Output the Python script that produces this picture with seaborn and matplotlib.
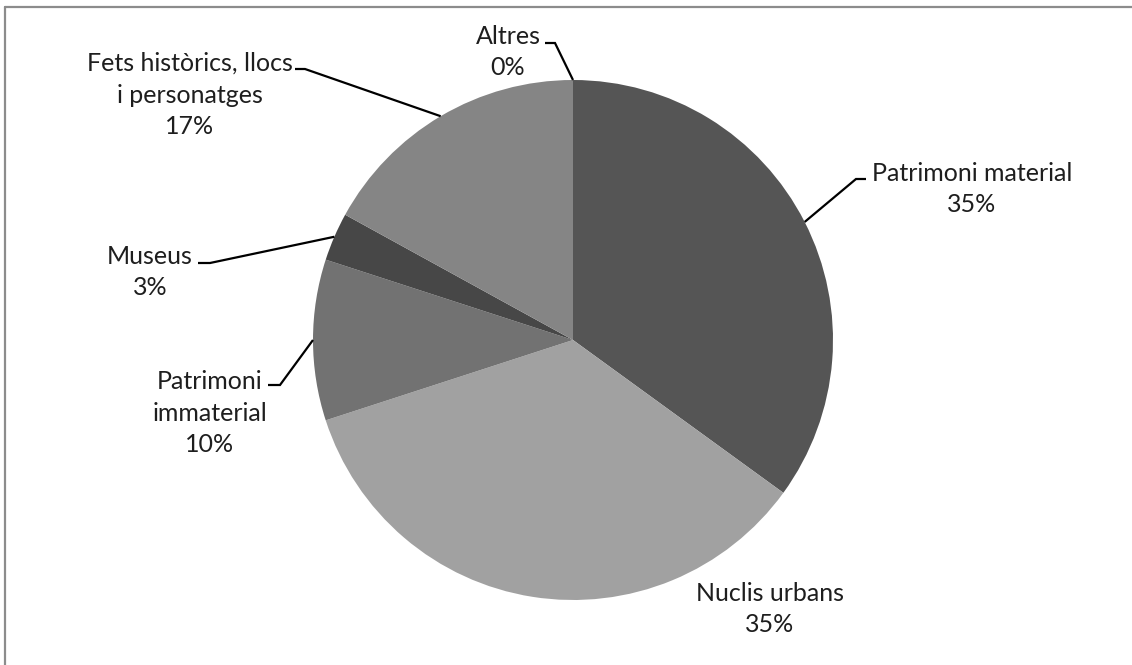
import numpy as np
import matplotlib
matplotlib.use("Agg")
import matplotlib.pyplot as plt
from matplotlib.lines import Line2D
import seaborn as sns

# Share of each heritage category (%)
categories = ["Patrimoni material", "Nuclis urbans", "Patrimoni\nimmaterial",
              "Museus", "Fets històrics, llocs\ni personatges", "Altres"]
shares = [35, 35, 10, 3, 17, 0]
slice_colors = ["#555555", "#a1a1a1", "#727272", "#474747", "#858585", "#666666"]

sns.set_theme(style="white")
plt.rcParams["font.family"] = ["Lato", "DejaVu Sans"]

W, H, DPI = 1132, 665, 100
fig = plt.figure(figsize=(W / DPI, H / DPI), dpi=DPI)
fig.patch.set_facecolor("white")

# pixel layout: pie centre and radius
cx, cy, R = 573, 340, 260
ax = fig.add_axes([0, 0, 1, 1])

wedges, _ = ax.pie(shares, colors=slice_colors, startangle=90, counterclock=False,
                   radius=1.0, center=(0, 0), wedgeprops=dict(linewidth=0))

ax.set_xlim(-cx / R, (W - cx) / R)
ax.set_ylim(-(H - cy) / R, cy / R)
ax.set_aspect("equal")
ax.axis("off")


def px(x, y):
    """pixel position -> data coordinates"""
    return (x - cx) / R, (cy - y) / R


# label centre, and for leader lines: stub start, stub end (pixels)
layout = {
    0: dict(text=(972, 189), stub=((866, 179), (856, 179))),
    1: dict(text=(770, 609), stub=None),
    2: dict(text=(210, 413), stub=((268, 385), (280, 385))),
    3: dict(text=(150, 272), stub=((198, 263), (210, 263))),
    4: dict(text=(190, 95), stub=((295, 69), (305, 69))),
    5: dict(text=(508, 52), stub=((545, 43), (555, 43))),
}

fs = 18
for i, (w, cat, val) in enumerate(zip(wedges, categories, shares)):
    lay = layout[i]
    tx, ty = px(*lay["text"])
    ax.text(tx, ty, f"{cat}\n{val}%", ha="center", va="center",
            multialignment="center", fontsize=fs, color="#1e1e1e",
            linespacing=1.46)
    if lay["stub"] is not None:
        mid = np.deg2rad((w.theta1 + w.theta2) / 2)
        ex, ey = np.cos(mid), np.sin(mid)
        (sx0, sy0), (sx1, sy1) = lay["stub"]
        a = px(sx0, sy0)
        b = px(sx1, sy1)
        ax.plot([a[0], b[0], ex], [a[1], b[1], ey], color="black", lw=1.6,
                solid_capstyle="butt", solid_joinstyle="miter")

# chart area frame (top and left edges)
frame_kw = dict(color="#8c8c8c", lw=1.6, transform=fig.transFigure)
fig.add_artist(Line2D([5 / W, 1], [1 - 7 / H, 1 - 7 / H], **frame_kw))
fig.add_artist(Line2D([5 / W, 5 / W], [0, 1 - 7 / H], **frame_kw))

fig.savefig("out.png", dpi=DPI, facecolor="white")
